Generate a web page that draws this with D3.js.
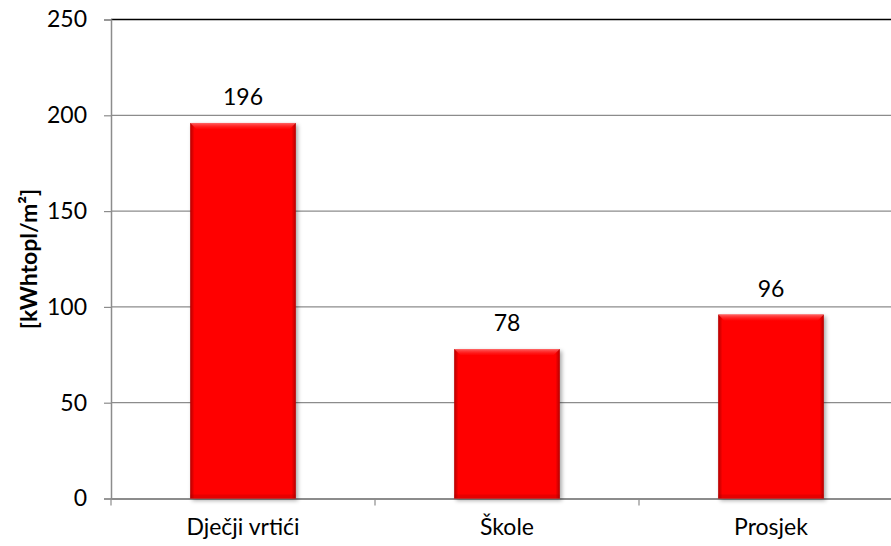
<!DOCTYPE html>
<html><head><meta charset="utf-8">
<script src="https://cdn.jsdelivr.net/npm/d3@7/dist/d3.min.js"></script>
<style>body{margin:0;background:#fff}svg{display:block}text{font-family:Lato,"Open Sans",sans-serif}</style>
</head><body>
<svg id="c" width="891" height="546"></svg>
<script>
const categories = ["Dječji vrtići", "Škole", "Prosjek"];
const values = [196, 78, 96];
const yTicks = [0, 50, 100, 150, 200, 250];
const yTitle = "[kWhtopl/m²]";

const svg = d3.select("#c");
const pL = 111, pR = 903, pT = 19.5, pB = 498.5;
const x = d3.scaleBand().domain(categories).range([pL, pR]).paddingInner(0.6).paddingOuter(0.3);
const step = x.step();
const y = d3.scaleLinear().domain([0, 250]).range([pB, pT]);
const fs = 23;

const defs = svg.append("defs");
const hg = defs.append("linearGradient").attr("id","hg").attr("x1","0").attr("x2","1").attr("y1","0").attr("y2","0");
hg.append("stop").attr("offset","0").attr("stop-color","#000").attr("stop-opacity",0.3);
hg.append("stop").attr("offset","0.04").attr("stop-color","#000").attr("stop-opacity",0);
hg.append("stop").attr("offset","0.96").attr("stop-color","#000").attr("stop-opacity",0);
hg.append("stop").attr("offset","1").attr("stop-color","#000").attr("stop-opacity",0.3);
const vg = defs.append("linearGradient").attr("id","vg").attr("x1","0").attr("x2","0").attr("y1","0").attr("y2","1");
vg.append("stop").attr("offset","0").attr("stop-color","#ff8080").attr("stop-opacity",0.8);
vg.append("stop").attr("offset","1").attr("stop-color","#ff2020").attr("stop-opacity",0.2);
const sh = defs.append("filter").attr("id","sh").attr("x","-20%").attr("y","-20%").attr("width","140%").attr("height","140%");
sh.append("feGaussianBlur").attr("in","SourceAlpha").attr("stdDeviation",2);
sh.append("feOffset").attr("dx",1.5).attr("dy",1.5).attr("result","b");
sh.append("feComponentTransfer").append("feFuncA").attr("type","linear").attr("slope",0.35);
const m = sh.append("feMerge"); m.append("feMergeNode"); m.append("feMergeNode").attr("in","SourceGraphic");

// gridlines
svg.append("g").selectAll("line").data(yTicks.filter(d => d > 0)).join("line")
  .attr("x1", pL).attr("x2", pR).attr("y1", d => y(d)).attr("y2", d => y(d))
  .attr("stroke", d => d === 250 ? "#000" : "#8c8c8c").attr("stroke-width", d => d === 250 ? 1.6 : 1.2);

// y axis
const ya = svg.append("g").attr("transform", `translate(${pL},0)`)
  .call(d3.axisLeft(y).tickValues(yTicks).tickSize(7).tickPadding(17));
ya.select(".domain").attr("stroke", "#8c8c8c").attr("stroke-width", 1.5);
ya.selectAll(".tick line").attr("stroke", "#8c8c8c").attr("stroke-width", 1.2);
ya.selectAll(".tick text").attr("font-size", fs).attr("fill", "#000").attr("font-family", "Lato, sans-serif");

// x axis
const xa = svg.append("g").attr("transform", `translate(0,${pB})`)
  .call(d3.axisBottom(x).tickSize(0).tickPadding(20));
xa.select(".domain").attr("stroke", "#8c8c8c").attr("stroke-width", 1.8);
xa.selectAll(".tick text").attr("font-size", fs).attr("fill", "#000").attr("font-family", "Lato, sans-serif");
svg.append("g").selectAll("line").data(categories).join("line")
  .attr("x1", d => x(d) - step * 0.3).attr("x2", d => x(d) - step * 0.3)
  .attr("y1", pB).attr("y2", pB + 7).attr("stroke", "#8c8c8c").attr("stroke-width", 1.2);

// bars
const bars = svg.append("g").selectAll("g").data(categories).join("g");
bars.append("rect").attr("x", d => x(d)).attr("width", x.bandwidth())
  .attr("y", (d, i) => y(values[i])).attr("height", (d, i) => y(0) - y(values[i]))
  .attr("fill", "#ff0000").attr("filter", "url(#sh)");
bars.append("rect").attr("x", d => x(d)).attr("width", x.bandwidth())
  .attr("y", (d, i) => y(values[i])).attr("height", (d, i) => y(0) - y(values[i]))
  .attr("fill", "url(#hg)");
bars.append("path").attr("d", (d, i) => {
  const x0 = x(d), x1 = x(d) + x.bandwidth(), yt = y(values[i]), b = 6;
  return `M${x0},${yt}L${x1},${yt}L${x1 - b},${yt + b}L${x0 + b},${yt + b}Z`;
}).attr("fill", "url(#vg)");
bars.append("rect").attr("x", d => x(d)).attr("width", x.bandwidth())
  .attr("y", y(0) - 4).attr("height", 4).attr("fill", "#a00000").attr("opacity", 0.25);

// value labels
svg.append("g").selectAll("text").data(categories).join("text")
  .attr("x", d => x(d) + x.bandwidth() / 2).attr("y", (d, i) => y(values[i]) - 18)
  .attr("text-anchor", "middle").attr("font-size", fs).attr("fill", "#000")
  .text((d, i) => values[i]);

// y title
svg.append("text").attr("transform", `translate(37,${(pT + pB) / 2}) rotate(-90)`)
  .attr("text-anchor", "middle").attr("font-size", 23).attr("font-weight", "bold").attr("fill", "#000")
  .text(yTitle);
</script>
</body></html>
